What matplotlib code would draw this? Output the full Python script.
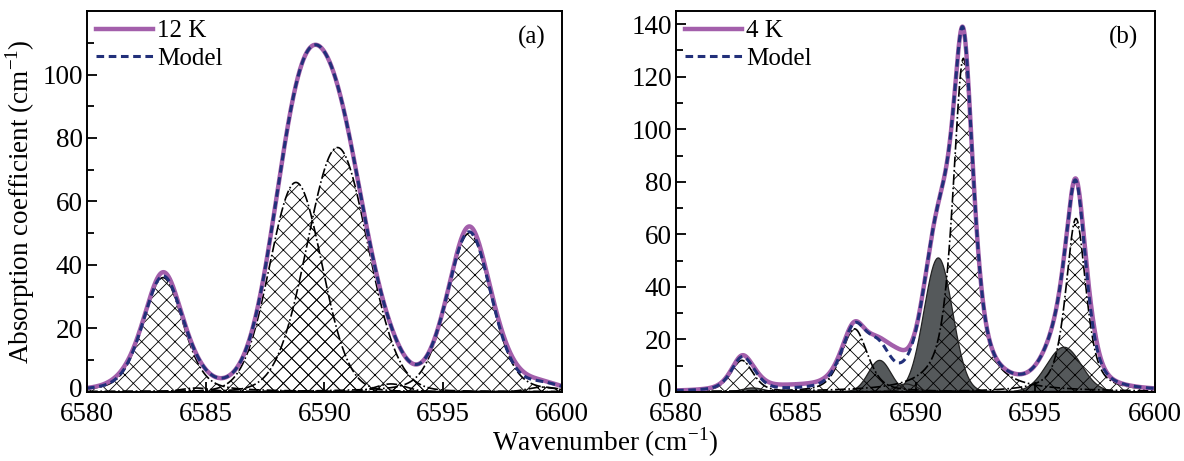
import numpy as np
import matplotlib.pyplot as plt
from matplotlib.transforms import ScaledTranslation

plt.rcParams['font.family'] = ['Liberation Serif', 'DejaVu Serif']
plt.rcParams['mathtext.fontset'] = 'custom'
plt.rcParams['mathtext.rm'] = 'Liberation Serif'
plt.rcParams['hatch.linewidth'] = 0.6

# fitted line components (center, height, FWHM, Lorentz fraction)
a_centers = [6583.2, 6588.8, 6590.55, 6596.1, 6584.6, 6592.8, 6599.2]
a_heights = [36, 66, 77, 50, 1.2, 2.5, 1.5]
a_fwhm = [2.0, 2.6, 3.0, 2.2, 1.5, 1.5, 1.5]
a_eta = [0.3, 0.05, 0.05, 0.25, 0.0, 0.0, 0.0]
# small differences between measurement and model
a_res_centers = [6581.5, 6583.3, 6596.1, 6597.8]
a_res_heights = [0.8, 1.2, 1.5, 1.5]
a_res_fwhm = [1.5, 1.0, 1.0, 2.0]

b_centers = [6582.75, 6587.45, 6592.0, 6596.7]
b_heights = [12, 24, 127, 66]
b_fwhm = [1.1, 1.3, 1.05, 1.0]
b_eta = [0.5, 0.5, 0.7, 0.6]
b_dark_centers = [6583.2, 6588.5, 6589.6, 6590.95, 6596.2]
b_dark_heights = [1.5, 12, 3, 51, 17]
b_dark_fwhm = [1.0, 1.1, 1.0, 1.4, 1.7]
b_res_centers = [6585.0, 6589.2, 6597.3]
b_res_heights = [1.2, 5.5, 3]
b_res_fwhm = [4.0, 0.9, 0.8]

x = np.linspace(6580, 6600, 2001)

PURPLE = '#a35fab'
NAVY = '#22307a'


def pvoigt(c, h, w, eta):
    s = w / 2.3548
    g = np.exp(-0.5 * ((x - c) / s) ** 2)
    l = 1 / (1 + ((x - c) / (w / 2)) ** 2)
    return h * (eta * l + (1 - eta) * g)


def style_axes(ax, ymax, step):
    ax.set_xlim(6580, 6600)
    ax.set_ylim(0, ymax)
    ax.set_xticks(np.arange(6580, 6601, 5))
    ax.set_yticks(np.arange(0, ymax, step))
    ax.set_yticks(np.arange(0, ymax, step / 2), minor=True)
    ax.tick_params(direction='in', labelsize=19.5, length=7, width=1.3, top=False, right=False)
    ax.tick_params(axis='x', pad=7.5)
    ax.tick_params(axis='y', pad=3)
    ax.tick_params(which='minor', direction='in', length=5, width=1.3, bottom=False)
    for sp in ax.spines.values():
        sp.set_linewidth(1.4)
    # lift the "0" label a touch so it clears the x tick labels
    lab = ax.yaxis.get_major_ticks()[0].label1
    lab.set_transform(lab.get_transform() + ScaledTranslation(0, 3 / 72, ax.figure.dpi_scale_trans))


fig = plt.figure(figsize=(11.84, 4.61), dpi=100)
ax1 = fig.add_axes([0.0735, 0.15, 0.401, 0.826])
ax2 = fig.add_axes([0.571, 0.15, 0.4045, 0.826])

# panel (a)
comps = [pvoigt(c, h, w, e) for c, h, w, e in zip(a_centers, a_heights, a_fwhm, a_eta)]
model_a = sum(comps)
meas_a = model_a + sum(pvoigt(c, h, w, 0) for c, h, w in zip(a_res_centers, a_res_heights, a_res_fwhm))
for y in comps:
    ax1.fill_between(x, 0, y, facecolor='none', edgecolor='black', hatch='xx', linewidth=0)
    ax1.plot(x, y, color='black', ls='-.', lw=1.2)
ax1.plot(x, meas_a, color=PURPLE, lw=3.2, label='12 K')
ax1.plot(x, model_a, color=NAVY, lw=2.2, ls=(0, (2.5, 1.5)), label='Model')
style_axes(ax1, 120, 20)
ax1.set_ylabel(r'Absorption coefficient (cm$^{\mathregular{-1}}$)', fontsize=19.5, labelpad=4)
ax1.text(0.965, 0.93, '(a)', transform=ax1.transAxes, ha='right', va='center', fontsize=18)
ax1.legend(loc='upper left', frameon=False, fontsize=18, handlelength=2.3, handletextpad=0.15,
           labelspacing=0.2, borderaxespad=0.1, borderpad=0.25)

# panel (b)
dark = [pvoigt(c, h, w, 0) for c, h, w in zip(b_dark_centers, b_dark_heights, b_dark_fwhm)]
comps = [pvoigt(c, h, w, e) for c, h, w, e in zip(b_centers, b_heights, b_fwhm, b_eta)]
model_b = sum(comps) + sum(dark)
meas_b = model_b + sum(pvoigt(c, h, w, 0) for c, h, w in zip(b_res_centers, b_res_heights, b_res_fwhm))
for y in dark:
    ax2.fill_between(x, 0, y, facecolor='#55595b', edgecolor='none')
    ax2.plot(x, y, color='#222222', lw=0.9)
for y in comps:
    ax2.fill_between(x, 0, y, facecolor='none', edgecolor='black', hatch='xx', linewidth=0)
    ax2.plot(x, y, color='black', ls='-.', lw=1.2)
ax2.plot(x, meas_b, color=PURPLE, lw=3.2, label='4 K')
ax2.plot(x, model_b, color=NAVY, lw=2.2, ls=(0, (2.5, 1.5)), label='Model')
style_axes(ax2, 145, 20)
ax2.text(0.965, 0.93, '(b)', transform=ax2.transAxes, ha='right', va='center', fontsize=18)
ax2.legend(loc='upper left', frameon=False, fontsize=18, handlelength=2.3, handletextpad=0.15,
           labelspacing=0.2, borderaxespad=0.1, borderpad=0.25)

fig.text(0.511, 0.04, r'Wavenumber (cm$^{\mathregular{-1}}$)', ha='center', va='center', fontsize=19.5)

fig.savefig('out.png', dpi=100)
